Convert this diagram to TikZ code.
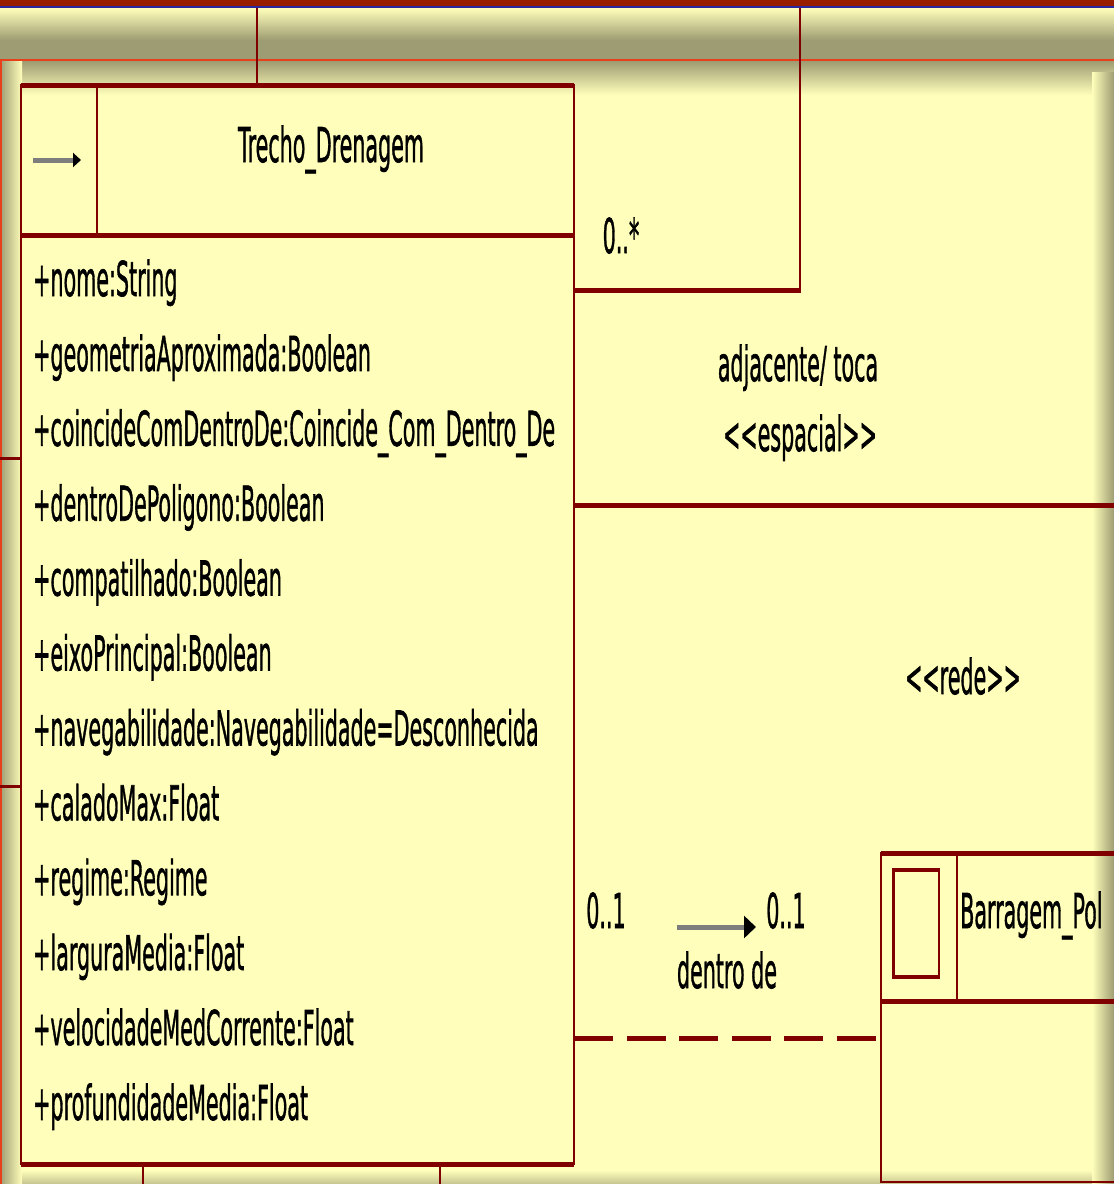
\documentclass[tikz,border=0pt]{standalone}
\usepackage{fontspec}
\setmainfont{DejaVu Sans}
\newfontfamily\umlfont[RawFeature={embolden=1.5}]{DejaVu Sans}
\usepackage{graphicx}
\usetikzlibrary{arrows.meta}

\definecolor{umlfill}{RGB}{255,255,187}
\definecolor{umlline}{RGB}{128,0,0}
\definecolor{umlshade}{RGB}{158,156,114}
\definecolor{framered}{RGB}{152,30,0}
\definecolor{frameblue}{RGB}{40,40,160}
\definecolor{frameorange}{RGB}{232,64,26}
\definecolor{arrowgray}{RGB}{125,125,125}

\newcommand{\umltext}[1]{\scalebox{0.43}[1]{#1}}

\begin{document}
\begin{tikzpicture}[x=1pt, y=-1pt,
	umllabel/.style={inner sep=0pt, anchor=base, font=\umlfont\fontsize{48}{56}\selectfont},
	attr/.style={umllabel, anchor=base west},
	hline/.style={umlline, line width=5pt},
	vline/.style={umlline, line width=2.5pt},
	classbox/.style={draw=umlline, line width=2.5pt, inner sep=0pt, outer sep=0pt}]
	\useasboundingbox (0,0) rectangle (1114,1184);

	% frame and shadows
	\fill [umlfill] (0,0) rectangle (1114,1184);
	\shade [top color=umlfill, bottom color=umlshade] (0,8) rectangle (1114,40);
	\fill [umlshade] (0,40) rectangle (1114,59);
	\shade [top color=umlshade, bottom color=umlfill] (0,61) rectangle (1114,95);
	\shade [left color=umlshade, right color=umlfill] (0,61) rectangle (22,1184);
	\shade [left color=umlfill, right color=umlshade] (1092,72) rectangle (1114,1184);
	\shade [top color=umlfill, bottom color=umlshade!60!umlfill] (22,1170) rectangle (1092,1184);
	\fill [framered] (0,0) rectangle (1114,6);
	\fill [frameblue] (0,6) rectangle (1114,8);
	\draw [frameorange, line width=2pt] (0,60) -- (1114,60);
	\draw [frameorange, line width=2pt] (1,60) -- (1,1184);

	% Trecho_Drenagem
	\node [classbox, minimum width=553pt, minimum height=1078.5pt] (trecho) at (297.5,624.75) {};
	\draw [hline] (trecho.north west) -- (trecho.north east);
	\draw [hline] (trecho.south west) -- (trecho.south east);
	\draw [hline] (21,235) -- (574,235);
	\draw [vline] (97,85.5) -- (97,235);
	\draw [arrowgray, line width=5pt, -{Triangle[length=8pt, width=14pt, color=black]}] (33,160) -- (81,160);
	\node [umllabel] (title) at (331,162) {\umltext{Trecho\_Drenagem}};

	\node [attr] (a1) at (33,296) {\umltext{+nome:String}};
	\node [attr] (a2) at (33,370.9) {\umltext{+geometriaAproximada:Boolean}};
	\node [attr] (a3) at (33,445.8) {\umltext{+coincideComDentroDe:Coincide\_Com\_Dentro\_De}};
	\node [attr] (a4) at (33,520.7) {\umltext{+dentroDePoligono:Boolean}};
	\node [attr] (a5) at (33,595.6) {\umltext{+compatilhado:Boolean}};
	\node [attr] (a6) at (33,670.5) {\umltext{+eixoPrincipal:Boolean}};
	\node [attr] (a7) at (33,745.4) {\umltext{+navegabilidade:Navegabilidade=Desconhecida}};
	\node [attr] (a8) at (33,820.3) {\umltext{+caladoMax:Float}};
	\node [attr] (a9) at (33,895.2) {\umltext{+regime:Regime}};
	\node [attr] (a10) at (33,970.1) {\umltext{+larguraMedia:Float}};
	\node [attr] (a11) at (33,1045) {\umltext{+velocidadeMedCorrente:Float}};
	\node [attr] (a12) at (33,1119.9) {\umltext{+profundidadeMedia:Float}};

	% Barragem_Pol
	\node [classbox, minimum width=249pt, minimum height=328.5pt] (barragem) at (1005.5,1017.75) {};
	\draw [hline] (barragem.north west) -- (barragem.north east);
	\draw [hline] (881,1001) -- (1130,1001);
	\draw [vline] (957,853.5) -- (957,1001);
	\draw [hline, line width=4pt] (892,870) -- (940,870);
	\draw [hline, line width=4pt] (892,977) -- (940,977);
	\draw [vline] (893.25,870) -- (893.25,977);
	\draw [vline] (938.75,870) -- (938.75,977);
	\node [umllabel, anchor=base west] (bname) at (960,928) {\umltext{Barragem\_Pol}};

	% connectors
	\coordinate (topA) at (257,8);
	\draw [vline, line width=2pt] (topA) -- (topA |- trecho.north);

	\coordinate (topB) at (800,8);
	\coordinate (bendB) at (800,290);
	\draw [hline] (trecho.east |- bendB) -- ([xshift=1.25pt]bendB);
	\draw [vline] (bendB) -- (topB);
	\node [umllabel] (multB) at (621,253) {\umltext{0..*}};

	\coordinate (rightC) at (1114,505);
	\draw [hline] (trecho.east |- rightC) -- (rightC);
	\node [umllabel] (nameC) at (798,381) {\umltext{adjacente/ toca}};
	\node [umllabel] (stereoC) at (800,451) {\umltext{<\kern0pt<espacial>\kern0pt>}};

	\node [umllabel] (stereoD) at (963,694) {\umltext{<\kern0pt<rede>\kern0pt>}};

	\coordinate (dashE) at (880,1038);
	\draw [hline, dash pattern=on 39pt off 13.5pt] (trecho.east |- dashE) -- (barragem.west |- dashE);
	\node [umllabel] (multE1) at (606,928) {\umltext{0..1}};
	\node [umllabel] (multE2) at (786,928) {\umltext{0..1}};
	\draw [arrowgray, line width=5pt, -{Triangle[length=12pt, width=22pt, color=black]}] (677,927) -- (756,927);
	\node [umllabel] (nameE) at (727,988) {\umltext{dentro de}};

	\coordinate (leftF) at (0,458);
	\coordinate (leftG) at (0,786);
	\draw [hline, line width=3pt] (leftF) -- (leftF -| trecho.west);
	\draw [hline, line width=3pt] (leftG) -- (leftG -| trecho.west);

	\coordinate (botH) at (143,1184);
	\coordinate (botI) at (440,1184);
	\draw [vline] (trecho.south -| botH) -- (botH);
	\draw [vline] (trecho.south -| botI) -- (botI);
\end{tikzpicture}
\end{document}
